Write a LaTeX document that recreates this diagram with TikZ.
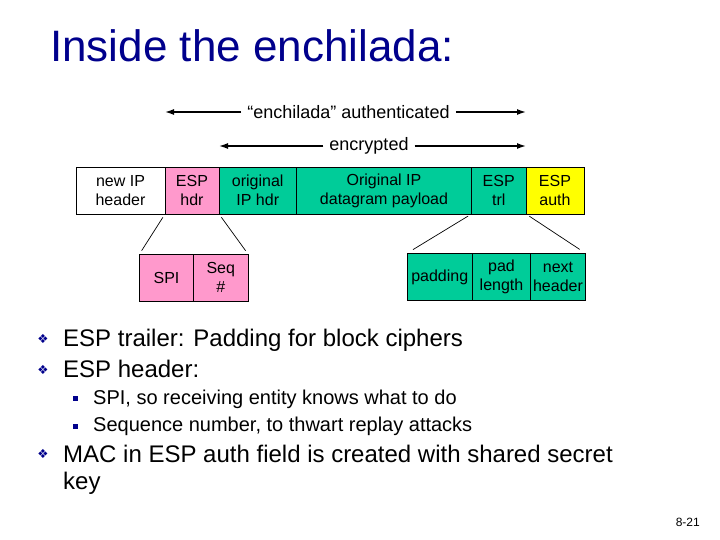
\documentclass[tikz,border=0pt]{standalone}
\usepackage{fontspec}
\setmainfont{Liberation Sans}
\newfontfamily\symfont{DejaVu Sans}
\usetikzlibrary{arrows.meta}

\definecolor{titleblue}{RGB}{0,0,140}
\definecolor{esppink}{RGB}{255,153,204}
\definecolor{espgreen}{RGB}{0,204,153}
\definecolor{authyellow}{RGB}{255,255,0}

\begin{document}
\begin{tikzpicture}[x=1pt,y=-1pt,
  field/.style={draw,line width=0.8pt,inner sep=0pt,outer sep=0pt,align=center,
    minimum height=46.5pt,font=\fontsize{16}{19}\selectfont},
  subfield/.style={field,minimum height=47.5pt},
  span/.style={line width=1.4pt,-{Latex[length=9pt,width=6pt]}},
  spanlabel/.style={inner xsep=6pt,inner ysep=2pt,font=\fontsize{18}{20}\selectfont},
  zoomline/.style={line width=0.7pt,shorten <=4pt,shorten >=4pt},
  bigtext/.style={anchor=base west,inner sep=0pt,font=\fontsize{24}{27}\selectfont},
  smalltext/.style={anchor=base west,inner sep=0pt,font=\fontsize{20}{23}\selectfont},
  diamondbullet/.style={inner sep=0pt,text=titleblue,font=\symfont\fontsize{12.5}{12.5}\selectfont},
  squarebullet/.style={fill=titleblue,inner sep=0pt,minimum size=5pt}]

  \useasboundingbox (0,0) rectangle (720,540);

  % Title
  \node[anchor=base west,inner sep=0pt,text=titleblue,font=\fontsize{44}{48}\selectfont]
    (title) at (50,62) {Inside the enchilada:};

  % Datagram fields
  \node[field,minimum width=89pt] (newip) at (120.5,190.75) {new IP\\header};
  \node[field,fill=esppink,minimum width=54pt] (esphdr) at (192,190.75) {ESP\\hdr};
  \node[field,fill=espgreen,minimum width=77.5pt] (origip) at (257.75,190.75) {original\\IP hdr};
  \node[field,fill=espgreen,minimum width=175pt] (payload) at (384,190.75) {Original IP\\datagram payload};
  \node[field,fill=espgreen,minimum width=54.5pt] (esptrl) at (498.75,190.75) {ESP\\trl};
  \node[field,fill=authyellow,minimum width=58pt] (espauth) at (555,190.75) {ESP\\auth};

  % Coverage arrows
  \node[spanlabel] (authtxt) at (348.5,112) {“enchilada” authenticated};
  \node[spanlabel] (enctxt) at (369,146) {encrypted};
  \draw[span] (authtxt.west) -- (esphdr.north west |- authtxt);
  \draw[span] (authtxt.east) -- (esptrl.north east |- authtxt);
  \draw[span] (enctxt.west) -- (origip.north west |- enctxt);
  \draw[span] (enctxt.east) -- (esptrl.north east |- enctxt);

  % ESP header detail
  \node[subfield,fill=esppink,minimum width=54pt] (spi) at (166.5,277.75) {SPI};
  \node[subfield,fill=esppink,minimum width=54.5pt] (seq) at (220.75,277.75) {Seq\\\#};
  \draw[zoomline] (esphdr.south west) -- (spi.north west);
  \draw[zoomline] (esphdr.south east) -- (seq.north east);

  % ESP trailer detail
  \node[subfield,fill=espgreen,minimum width=65.5pt] (padding) at (439.75,277) {padding};
  \node[subfield,fill=espgreen,minimum width=58pt] (padlen) at (501.5,277) {pad\\length};
  \node[subfield,fill=espgreen,minimum width=55pt] (nexthdr) at (558,277) {next\\header};
  \draw[zoomline,shorten >=7pt] (esptrl.south west) -- (padding.north west);
  \draw[zoomline,shorten >=7pt] (esptrl.south east) -- (nexthdr.north east);

  % Bullets
  \node[bigtext] (trailer) at (63,346) {ESP trailer: Padding for block ciphers};
  \node[bigtext] (header) at (63,377) {ESP header:};
  \node[smalltext] (spiline) at (93,404) {SPI, so receiving entity knows what to do};
  \node[smalltext] (seqline) at (93,431) {Sequence number, to thwart replay attacks};
  \node[bigtext] (mac) at (63,462) {MAC in ESP auth field is created with shared secret};
  \node[bigtext] (mackey) at (63,489) {key};

  \node[diamondbullet] (b1) at (43,338.5) {❖};
  \node[diamondbullet] (b2) at (43,369.5) {❖};
  \node[squarebullet] (s1) at (75,398.5) {};
  \node[squarebullet] (s2) at (75,426.5) {};
  \node[diamondbullet] (b3) at (43,454) {❖};

  % Page number
  \node[anchor=base east,inner sep=0pt,font=\fontsize{12}{14}\selectfont] (pgno) at (700,526) {8-21};

\end{tikzpicture}
\end{document}
